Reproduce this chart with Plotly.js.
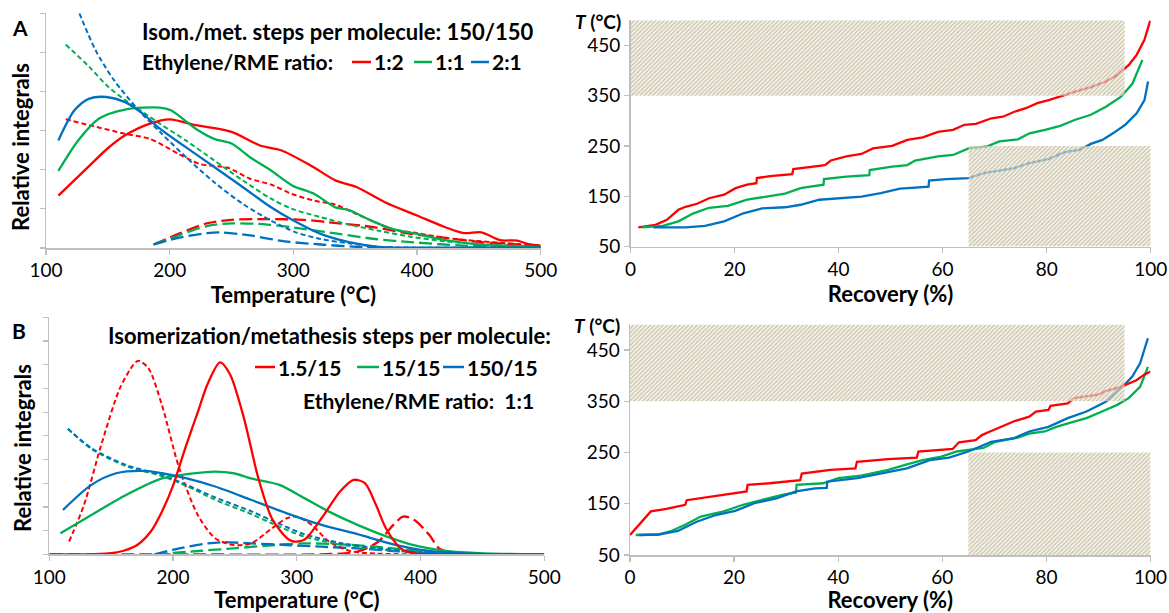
<!DOCTYPE html>
<html>
<head>
<meta charset="utf-8">
<script src="https://cdn.plot.ly/plotly-3.0.1.min.js"></script>
<style>html,body{margin:0;padding:0;background:#fff;}#chart{width:1169px;height:613px;}</style>
</head>
<body>
<div id="chart"></div>
<script>
// ---------- Panel A : temperature profiles, isom./met. 150/150 ----------
const A_red_solid_T   = [110,135,150,164,184,200,221,250,273,290,314,334,351,374,400,423,438,452,467,481,490,500];
const A_red_solid_y   = [1.34,2.10,2.55,2.88,3.18,3.29,3.14,2.97,2.62,2.50,2.11,1.73,1.56,1.17,0.83,0.53,0.38,0.40,0.20,0.19,0.10,0.06];
const A_green_solid_T = [110,126,143,164,192,201,221,236,250,265,282,299,317,334,345,363,380,400,423,452,500];
const A_green_solid_y = [1.97,2.75,3.31,3.54,3.59,3.52,3.05,2.79,2.67,2.32,1.98,1.60,1.38,1.04,0.97,0.70,0.49,0.36,0.20,0.085,0.02];
const A_blue_solid_T  = [110,123,135,149,164,178,192,213,236,259,282,299,322,345,369,395,450,500];
const A_blue_solid_y  = [2.75,3.52,3.82,3.86,3.73,3.44,3.05,2.58,2.07,1.56,1.04,0.72,0.36,0.15,0.03,0.01,0.01,0.01];
const A_red_sdash_T   = [116,135,164,184,207,224,247,265,282,299,317,334,351,369,380,400,423,452,481,500];
const A_red_sdash_y   = [3.29,3.14,2.92,2.79,2.41,2.15,2.05,1.77,1.62,1.38,1.21,1.11,0.87,0.62,0.48,0.38,0.26,0.17,0.10,0.03];
const A_green_sdash_T = [116,135,149,164,178,192,213,236,259,282,299,322,345,369,395,423,452,500];
const A_green_sdash_y = [5.20,4.63,4.16,3.78,3.48,3.18,2.75,2.24,1.73,1.26,1.00,0.79,0.60,0.44,0.29,0.17,0.10,0.03];
const A_blue_sdash_T  = [127,140,155,175,192,216,236,259,282,302,322,345,369,395,450,500];
const A_blue_sdash_y  = [6.00,5.06,4.29,3.52,2.97,2.24,1.68,1.13,0.70,0.40,0.23,0.12,0.03,0.01,0.01,0.01];
const A_red_ldash_T   = [187,207,230,250,279,308,337,366,395,423,452,500];
const A_red_ldash_y   = [0.09,0.36,0.63,0.72,0.74,0.72,0.63,0.53,0.36,0.26,0.15,0.06];
const A_green_ldash_T = [187,207,230,250,279,308,337,366,395,438,500];
const A_green_ldash_y = [0.09,0.32,0.56,0.63,0.60,0.49,0.36,0.23,0.15,0.06,0.02];
const A_blue_ldash_T  = [187,207,230,241,265,293,322,351,380];
const A_blue_ldash_y  = [0.09,0.26,0.38,0.40,0.32,0.17,0.09,0.03,0.00];

// ---------- Panel B : temperature profiles, ratio 1:1 ----------
const B_red_solid_T   = [100,130,148,160,171,182,191,200,210,220,228,238,246,257,269,280,292,297,306,320,335,346,355,364,372,384,395,420,500];
const B_red_solid_y   = [0,0,0.04,0.15,0.39,0.96,1.80,2.90,4.50,6.00,7.20,8.10,7.60,5.80,3.20,1.50,0.68,0.54,0.61,1.52,2.65,3.14,3.00,2.08,1.10,0.25,0.04,0,0];
const B_red_sdash_T   = [116,128,142,157,168,172,180,191,205,220,234,249,263,280,292,300,312,326,343,364,400,500];
const B_red_sdash_y   = [0.54,2.08,4.62,7.00,8.00,8.17,7.86,6.30,3.63,1.66,0.68,0.39,0.46,1.10,1.52,1.59,1.24,0.54,0.14,0.03,0,0];
const B_red_ldash_T   = [100,200,320,349,366,378,386,395,407,415,425];
const B_red_ldash_y   = [0,0,0,0.11,0.54,1.24,1.59,1.45,0.82,0.25,0.04];
const B_green_solid_T = [109,134,162,191,211,234,249,263,286,306,326,349,369,392,421,450,500];
const B_green_solid_y = [0.89,1.66,2.50,3.20,3.38,3.49,3.42,3.20,2.93,2.37,1.80,1.24,0.82,0.42,0.14,0.04,0];
const B_blue_solid_T  = [111,134,154,177,191,211,234,263,292,320,349,378,407,435,500];
const B_blue_solid_y  = [1.87,2.93,3.42,3.52,3.42,3.20,2.86,2.30,1.73,1.24,0.85,0.42,0.14,0.04,0];
const B_green_sdash_T = [115,134,162,191,211,234,263,280,306,335,364,392,430,500];
const B_green_sdash_y = [5.30,4.45,3.72,3.30,2.88,2.30,1.70,1.30,0.75,0.42,0.22,0.10,0.03,0];
const B_blue_sdash_T  = [115,134,162,191,211,234,263,280,306,335,364,392,430,500];
const B_blue_sdash_y  = [5.30,4.48,3.77,3.35,2.93,2.40,1.82,1.42,0.85,0.48,0.26,0.12,0.03,0];
const B_green_ldash_T = [185,220,249,277,306,335,364,392,421];
const B_green_ldash_y = [0,0.14,0.25,0.37,0.46,0.42,0.32,0.18,0.04];
const B_blue_ldash_T  = [185,205,228,240,263,292,320,349,378,407,420];
const B_blue_ldash_y  = [0,0.25,0.46,0.51,0.46,0.39,0.32,0.25,0.14,0.04,0];

// ---------- Panel C : recovery curves, isom./met. 150/150 ----------
const C_red_R   = [1.5,4.8,7.0,9.2,10.6,12.8,15.1,18,20.2,22.4,24.2,24.3,26.8,31.1,31.3,34.9,37.4,38.5,41.5,44.4,46.6,50.3,53.2,56.2,59.1,62,64.2,66.4,69.4,71.6,73.8,76,78.2,80.4,82.6,85.5,88.5,91.4,93.6,95.8,97.3,98.8,99.9];
const C_red_T   = [88,93,103,123,129,135,146,153,166,173,176,186,190,194,204,209,212,221,229,234,245,250,262,267,278,282,292,294,305,308,318,325,335,341,349,358,367,378,391,411,431,461,499];
const C_green_R = [2.2,6.2,9.2,12.1,15.1,18.7,22.4,26.1,29.7,32.7,35.6,37.1,37.2,41.5,45.9,46.0,50.3,53.2,54.7,59.1,62,65,68.6,70.9,74.5,76.7,79.7,82.6,85.5,88.5,91.4,94.3,96.5,98.4];
const C_green_T = [88,91,100,116,127,131,143,149,155,166,171,173,184,189,192,202,209,212,221,229,232,245,249,259,263,275,282,290,302,312,328,348,374,421];
const C_blue_R  = [4.4,10.6,14.3,18,21.7,25.3,29.7,32.7,36.3,40,44.4,48.1,51.8,54.7,57.3,57.4,60.6,65,67.9,73.8,76.7,80.4,83.3,86.3,88.5,90.7,92.9,95.1,97.3,98.8,99.5];
const C_blue_T  = [88,88,91,100,116,126,128,133,143,146,149,156,165,167,169,181,184,186,196,206,216,224,237,242,254,262,276,292,315,341,378];

// ---------- Panel D : recovery curves, ratio 1:1 ----------
const D_red_R   = [0,3.3,4.0,7.0,10.6,10.9,14.3,18,22.4,22.6,26.8,32.7,33.0,38.5,43.3,43.6,49.6,55.1,55.4,62,63.2,66.4,67.6,69.4,72.3,73.8,76.7,78.0,80.4,80.8,84.1,85.3,89.9,91.4,94.3,95.8,97.3,98.8,100];
const D_red_T   = [89,128,135,140,148,157,162,167,174,187,190,196,209,216,219,232,237,240,252,257,270,274,284,292,304,311,320,330,333,341,346,356,363,370,378,385,391,402,408];
const D_green_R = [1.1,5.5,7.7,10.6,13.6,18,21.7,25.3,29,31.9,32.0,37.1,40,44.4,49.6,53.2,56.2,59.8,62.8,67.9,70.2,74.5,76.7,79.7,81.9,84.8,87.7,90.7,93.6,95.8,98,99.5];
const D_green_T = [89,90,96,109,125,135,148,157,167,172,187,190,200,205,216,227,235,242,252,259,271,279,287,291,300,309,317,330,343,356,378,417];
const D_blue_R  = [1.8,5.5,9.2,12.8,16.5,20.2,23.9,28.3,31.9,35.6,37.8,37.9,43.7,48.1,53.2,57.6,61.3,65,69.4,73.8,76.7,80.4,84.1,87.7,91.4,94.3,96.5,98,99.5];
const D_blue_T  = [89,90,97,115,128,136,151,161,174,180,181,193,200,209,219,235,240,252,271,278,291,300,317,330,349,375,398,424,473];

// ---------- hatched regions (recovery %, T °C) ----------
const hatchHighR = [0,95],  hatchHighT = [350,500];
const hatchLowR  = [65,100], hatchLowT = [50,250];

// ---------- tick labels / texts ----------
const tempTicks = [100,200,300,400,500];
const recTicks  = [0,20,40,60,80,100];
const tTicks    = [50,150,250,350,450];
const legendA   = ['1:2','1:1','2:1'];
const legendB   = ['1.5/15','15/15','150/15'];

const RED='#ff0000', GREEN='#00b050', BLUE='#0070c0';
const FONT = 'Lato, "Open Sans", sans-serif';
const SD = '5px,3px', LD = '13px,5px';

function ln(x,y,color,dash,xa,ya,w,shape){
  return {type:'scatter',mode:'lines',x:x,y:y,xaxis:xa,yaxis:ya,hoverinfo:'skip',showlegend:false,
    line:{color:color,width:w||2.3,dash:dash||'solid',shape:shape||'spline',smoothing:0.8}};
}
function rect(rx,ty,xa,ya){
  return {type:'scatter',mode:'lines',x:[rx[0],rx[1],rx[1],rx[0],rx[0]],y:[ty[0],ty[0],ty[1],ty[1],ty[0]],
    xaxis:xa,yaxis:ya,fill:'toself',line:{width:0},hoverinfo:'skip',showlegend:false,
    fillcolor:'rgba(0,0,0,0)',
    fillpattern:{shape:'/',fgcolor:'#cdc6ad',bgcolor:'rgba(240,237,226,0.45)',size:3,solidity:0.5}};
}

const traces = [
  // A
  ln(A_red_ldash_T,A_red_ldash_y,RED,LD,'x','y'),
  ln(A_green_ldash_T,A_green_ldash_y,GREEN,LD,'x','y'),
  ln(A_blue_ldash_T,A_blue_ldash_y,BLUE,LD,'x','y'),
  ln(A_red_sdash_T,A_red_sdash_y,RED,SD,'x','y',2),
  ln(A_green_sdash_T,A_green_sdash_y,GREEN,SD,'x','y',2),
  ln(A_blue_sdash_T,A_blue_sdash_y,BLUE,SD,'x','y',2),
  ln(A_red_solid_T,A_red_solid_y,RED,'solid','x','y'),
  ln(A_green_solid_T,A_green_solid_y,GREEN,'solid','x','y'),
  ln(A_blue_solid_T,A_blue_solid_y,BLUE,'solid','x','y'),
  // B
  ln(B_red_ldash_T,B_red_ldash_y,RED,LD,'x3','y3'),
  ln(B_green_ldash_T,B_green_ldash_y,GREEN,LD,'x3','y3'),
  ln(B_blue_ldash_T,B_blue_ldash_y,BLUE,LD,'x3','y3'),
  ln(B_red_sdash_T,B_red_sdash_y,RED,SD,'x3','y3',2),
  ln(B_green_sdash_T,B_green_sdash_y,GREEN,SD,'x3','y3',2),
  ln(B_blue_sdash_T,B_blue_sdash_y,BLUE,SD,'x3','y3',2),
  ln(B_green_solid_T,B_green_solid_y,GREEN,'solid','x3','y3'),
  ln(B_blue_solid_T,B_blue_solid_y,BLUE,'solid','x3','y3'),
  ln(B_red_solid_T,B_red_solid_y,RED,'solid','x3','y3'),
  // C
  ln(C_red_R,C_red_T,RED,'solid','x2','y2',2.3,'linear'),
  ln(C_green_R,C_green_T,GREEN,'solid','x2','y2',2.3,'linear'),
  ln(C_blue_R,C_blue_T,BLUE,'solid','x2','y2',2.3,'linear'),
  rect(hatchHighR,hatchHighT,'x2','y2'),
  rect(hatchLowR,hatchLowT,'x2','y2'),
  // D
  ln(D_green_R,D_green_T,GREEN,'solid','x4','y4',2.3,'linear'),
  ln(D_blue_R,D_blue_T,BLUE,'solid','x4','y4',2.3,'linear'),
  ln(D_red_R,D_red_T,RED,'solid','x4','y4',2.3,'linear'),
  rect(hatchHighR,hatchHighT,'x4','y4'),
  rect(hatchLowR,hatchLowT,'x4','y4')
];

const W=1169, H=613;
const px = v => v/W, py = v => 1 - v/H;
const AX = {showline:true,linecolor:'#bfbfbf',linewidth:1.5,ticks:'outside',ticklen:5,tickcolor:'#bfbfbf',tickwidth:1.2,
  showgrid:false,zeroline:false,fixedrange:true,tickfont:{family:FONT,size:19,color:'#000'}};
const TF = {family:FONT,size:22,color:'#000'};
const LF = 21;

const layout = {
  width:W,height:H,margin:{l:0,r:0,t:0,b:0},paper_bgcolor:'#fff',plot_bgcolor:'rgba(0,0,0,0)',showlegend:false,
  font:{family:FONT,color:'#000'},
  xaxis:Object.assign({},AX,{domain:[px(46),px(540.7)],range:[100,500],tickvals:tempTicks,anchor:'y',
    title:{text:'<b>Temperature (°C)</b>',font:TF,standoff:4}}),
  yaxis:Object.assign({},AX,{domain:[py(248),py(13.3)],range:[0,6],dtick:1,showticklabels:false,anchor:'x'}),
  xaxis3:Object.assign({},AX,{domain:[px(49.3),px(544.3)],range:[100,500],tickvals:tempTicks,anchor:'y3',
    title:{text:'<b>Temperature (°C)</b>',font:TF,standoff:4}}),
  yaxis3:Object.assign({},AX,{domain:[py(554.3),py(317.3)],range:[0,10],dtick:1,showticklabels:false,anchor:'x3'}),
  xaxis2:Object.assign({},AX,{domain:[px(630.5),px(1150.7)],range:[0,100],tickvals:recTicks,anchor:'y2',
    title:{text:'<b>Recovery (%)</b>',font:TF,standoff:4}}),
  yaxis2:Object.assign({},AX,{domain:[py(246.5),py(20.2)],range:[50,500],tickvals:tTicks,anchor:'x2'}),
  xaxis4:Object.assign({},AX,{domain:[px(630),px(1150.5)],range:[0,100],tickvals:recTicks,anchor:'y4',
    title:{text:'<b>Recovery (%)</b>',font:TF,standoff:4}}),
  yaxis4:Object.assign({},AX,{domain:[py(555),py(324.4)],range:[50,500],tickvals:tTicks,anchor:'x4'}),
  annotations:[],
  shapes:[]
};

function ann(text,x,y,xanchor,size,angle){
  layout.annotations.push({text:text,xref:'paper',yref:'paper',x:px(x),y:py(y),xanchor:xanchor,yanchor:'middle',
    textangle:angle||0,showarrow:false,font:{family:FONT,size:size||LF,color:'#000'}});
}
function key(x0,x1,y,color){
  layout.shapes.push({type:'line',xref:'paper',yref:'paper',x0:px(x0),x1:px(x1),y0:py(y),y1:py(y),line:{color:color,width:2.5}});
}
// y-axis titles (placed as in the reference, slightly below the axis centre)
ann('<b>Relative integrals</b>',21,147,'center',22,-90);
ann('<b>Relative integrals</b>',22,448,'center',22,-90);
ann('<b>A</b>',20,27,'center',21);
ann('<b>B</b>',19,330,'center',21);
ann('<b>Isom./met. steps per molecule: 150/150</b>',140,32,'left',22);
ann('<b>Ethylene/RME ratio:</b>',140,62,'left');
key(352,371,62,RED);  ann('<b>'+legendA[0]+'</b>',372,62,'left');
key(414,432,62,GREEN);ann('<b>'+legendA[1]+'</b>',433,62,'left');
key(471,489,62,BLUE); ann('<b>'+legendA[2]+'</b>',490,62,'left');
ann('<b>Isomerization/metathesis steps per molecule:</b>',553,335,'right',22);
key(255,275,367,RED);  ann('<b>'+legendB[0]+'</b>',276,367,'left');
key(357,379,367,GREEN);ann('<b>'+legendB[1]+'</b>',380,367,'left');
key(443,464,367,BLUE); ann('<b>'+legendB[2]+'</b>',465,367,'left');
ann('<b>Ethylene/RME ratio:  1:1</b>',536,400,'right');
ann('<b><i>T</i> (°C)</b>',623,21,'right',19);
ann('<b><i>T</i> (°C)</b>',622,326,'right',19);

Plotly.newPlot('chart',traces,layout,{displayModeBar:false,staticPlot:true});
</script>
</body>
</html>
